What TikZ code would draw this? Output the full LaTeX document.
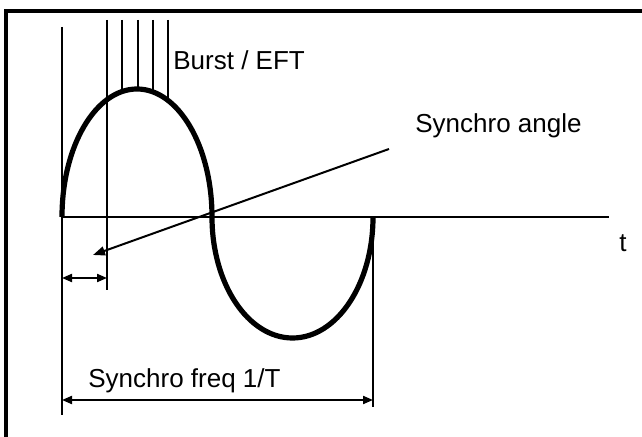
\documentclass[tikz,border=0pt]{standalone}
\usepackage{fontspec}
\setmainfont{Liberation Sans}
\usetikzlibrary{arrows.meta}
\begin{document}
\begin{tikzpicture}[x=0.5pt,y=-0.5pt,
  thin line/.style={line width=1pt},
  wave/.style={line width=2.6pt},
  tip/.style={{Triangle[length=5pt,width=4pt]}-{Triangle[length=5pt,width=4pt]}},
  lbl/.style={anchor=base west,inner sep=0pt,font=\fontsize{13}{15}\selectfont}]
\useasboundingbox (0,0) rectangle (642,437);
\clip (0,0) rectangle (642,437);
\draw[line width=1.6pt] (6,11) rectangle (660,460);
% coordinates
\coordinate (L0) at (62,27);
\coordinate (L1) at (62,415);
\coordinate (R0) at (373,217);
\coordinate (R1) at (373,407);
\coordinate (A0) at (62,217);
\coordinate (A1) at (609,217);
\coordinate (B1t) at (107,20);
\coordinate (B1b) at (107,290);
\coordinate (B2t) at (122,20);
\coordinate (B2b) at (122,92);
\coordinate (B3t) at (138,20);
\coordinate (B3b) at (138,89);
\coordinate (B4t) at (153,20);
\coordinate (B4b) at (153,92);
\coordinate (B5t) at (168,20);
\coordinate (B5b) at (168,100);
\coordinate (S0) at (389,149);
\coordinate (S1) at (93,255);
\coordinate (P0) at (62,278);
\coordinate (P1) at (107,278);
\coordinate (F0) at (62,400);
\coordinate (F1) at (373,400);
% lines
\draw[thin line] (L0) -- (L1);
\draw[thin line] (R0) -- (R1);
\draw[line width=1.2pt] (A0) -- (A1);
\foreach \n in {1,...,5} \draw[thin line] (B\n t) -- (B\n b);
% wave
\draw[wave] (A0) arc[start angle=180,end angle=360,x radius=75,y radius=128]
  arc[start angle=180,end angle=0,x radius=80.5,y radius=121];
% arrows
\draw[thin line,-{Triangle[length=6pt,width=4.5pt]}] (S0) -- (S1);
\draw[thin line,tip] (P0) -- (P1);
\draw[thin line,tip] (F0) -- (F1);
% labels
\node[lbl] (burst) at (173,70) {Burst / EFT};
\node[lbl] (angle) at (415,133) {Synchro angle};
\node[lbl] (t) at (619,252) {t};
\node[lbl] (freq) at (88,388) {Synchro freq 1/T};
\end{tikzpicture}
\end{document}
